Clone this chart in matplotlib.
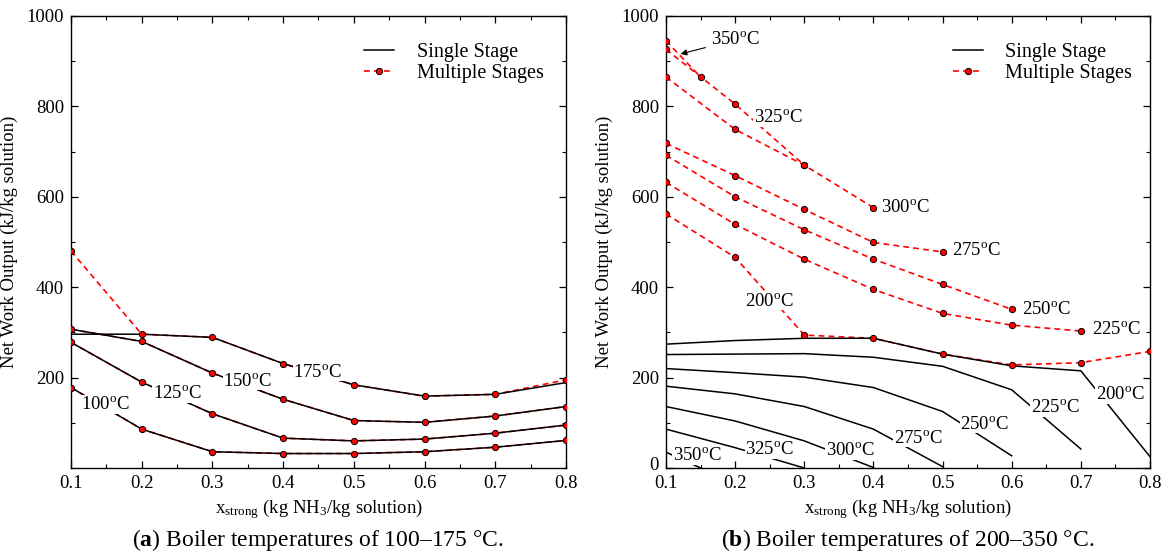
import numpy as np
import matplotlib
matplotlib.use("Agg")
import matplotlib.pyplot as plt
import matplotlib.transforms as mtransforms
from matplotlib.ticker import MultipleLocator

plt.rcParams['font.family'] = ['Liberation Serif', 'DejaVu Serif']
plt.rcParams['mathtext.fontset'] = 'custom'
plt.rcParams['mathtext.rm'] = 'Liberation Serif'
plt.rcParams['mathtext.it'] = 'Liberation Serif:italic'
plt.rcParams['mathtext.bf'] = 'Liberation Serif:bold'

## data, panel (a): boiler 100-175 C
x_a = [0.1, 0.2, 0.3, 0.4, 0.5, 0.6, 0.7, 0.8]
temps_a = [100, 125, 150, 175]
single_a = {
    100: [178, 86, 36, 32, 32, 36, 46, 61],
    125: [278, 190, 120, 66, 60, 64, 77, 95],
    150: [307, 280, 210, 152, 105, 101, 115, 136],
    175: [296, 296, 289, 231, 184, 159, 163, 189],
}
multi_a = {
    100: [178, 86, 36, 32, 32, 36, 46, 61],
    125: [278, 190, 120, 66, 60, 64, 77, 95],
    150: [307, 280, 210, 152, 105, 101, 115, 136],
    175: [480, 296, 289, 231, 184, 159, 163, 195],
}
label_pos_a = {100: (0.149, 141), 125: (0.25, 165), 150: (0.35, 192), 175: (0.449, 212)}

## data, panel (b): boiler 200-350 C
temps_b = [200, 225, 250, 275, 300, 325, 350]
single_x_b = {
    200: [0.1, 0.2, 0.3, 0.4, 0.5, 0.6, 0.7, 0.8],
    225: [0.1, 0.2, 0.3, 0.4, 0.5, 0.6, 0.7],
    250: [0.1, 0.2, 0.3, 0.4, 0.5, 0.6],
    275: [0.1, 0.2, 0.3, 0.4, 0.5],
    300: [0.1, 0.2, 0.3, 0.4],
    325: [0.1, 0.2, 0.3],
    350: [0.1, 0.15],
}
single_b = {
    200: [274, 282, 287, 287, 252, 226, 215, 25],
    225: [251, 252, 253, 245, 225, 173, 42],
    250: [220, 211, 201, 178, 125, 27],
    275: [181, 164, 136, 86, 3],
    300: [136, 104, 60, 1],
    325: [86, 45, 0],
    350: [35, 0],
}
multi_x_b = {
    200: [0.1, 0.2, 0.3, 0.4, 0.5, 0.6, 0.7, 0.8],
    225: [0.1, 0.2, 0.3, 0.4, 0.5, 0.6, 0.7],
    250: [0.1, 0.2, 0.3, 0.4, 0.5, 0.6],
    275: [0.1, 0.2, 0.3, 0.4, 0.5],
    300: [0.1, 0.2, 0.3, 0.4],
    325: [0.1, 0.2, 0.3],
    350: [0.1, 0.15],
}
multi_b = {
    200: [562, 466, 294, 287, 252, 228, 233, 258],
    225: [632, 539, 462, 395, 342, 316, 303],
    250: [692, 600, 527, 462, 406, 351],
    275: [718, 647, 572, 499, 478],
    300: [865, 749, 670, 576],
    325: [926, 805, 670],
    350: [945, 865],
}
single_label_b = {200: (0.757, 163), 225: (0.663, 133), 250: (0.561, 97), 275: (0.465, 66),
                  300: (0.366, 38), 325: (0.25, 41), 350: (0.145, 27)}
multi_label_b = {200: (0.25, 369), 225: (0.716, 307), 250: (0.6145, 351), 275: (0.513, 481),
                 300: (0.4105, 577), 325: (0.262, 775)}

FS = 13.5
BLACK = dict(color='black', lw=1.1, zorder=3)
RED = dict(color='red', lw=1.2, ls=(0, (3.5, 2.5)), zorder=2)
MARK = dict(ls='none', marker='o', ms=4.5, mfc='red', mec='black', mew=0.7, zorder=4)
BOX = dict(fc='white', ec='none', pad=0.6)


def deg(t):
    return '%d$^{\\rm o}$C' % t


def style(ax, yticks):
    ax.set_xlim(0.1, 0.8)
    ax.set_ylim(0, 1000)
    ax.set_xticks([0.1, 0.2, 0.3, 0.4, 0.5, 0.6, 0.7, 0.8])
    ax.set_xticklabels(['0.1', '0.2', '0.3', '0.4', '0.5', '0.6', '0.7', '0.8'])
    ax.set_yticks(yticks)
    ax.xaxis.set_minor_locator(MultipleLocator(0.05))
    ax.yaxis.set_minor_locator(MultipleLocator(100))
    ax.tick_params(which='both', direction='in', top=True, right=True, labelsize=FS, pad=5)
    ax.tick_params(which='major', length=5, width=0.9)
    ax.tick_params(which='minor', length=3, width=0.8)
    for s in ax.spines.values():
        s.set_linewidth(1.0)
    ax.set_xlabel('x$_{\\rm strong}$ (kg NH$_3$/kg solution)', fontsize=FS, labelpad=4)
    ax.set_ylabel('Net Work Output (kJ/kg solution)', fontsize=FS, labelpad=6)
    leg_s = plt.Line2D([], [], **BLACK)
    leg_m = plt.Line2D([], [], color='red', lw=1.2, ls=(0, (3.5, 2.5)), marker='o', ms=4.5,
                       mfc='red', mec='black', mew=0.7)
    ax.legend([leg_s, leg_m], ['Single Stage', 'Multiple Stages'], loc='upper left',
              bbox_to_anchor=(0.572, 0.962), frameon=False, fontsize=14.5, borderpad=0,
              handlelength=1.5, handletextpad=1.1, labelspacing=0.1)


fig = plt.figure(figsize=(11.74, 5.54), dpi=100)
ax1 = fig.add_axes([71 / 1174, 86 / 554, 495 / 1174, 452 / 554])
ax2 = fig.add_axes([666 / 1174, 86 / 554, 484 / 1174, 452 / 554])

# panel (a)
for t in temps_a:
    ax1.plot(x_a, single_a[t], **BLACK)
    ax1.plot(x_a, multi_a[t], **RED)
    ax1.plot(x_a, multi_a[t], **MARK)
    lx, ly = label_pos_a[t]
    ax1.text(lx, ly, deg(t), fontsize=FS, ha='center', va='center', bbox=BOX, zorder=5)
style(ax1, [200, 400, 600, 800, 1000])

# panel (b)
for t in temps_b:
    ax2.plot(single_x_b[t], single_b[t], **BLACK)
    ax2.plot(multi_x_b[t], multi_b[t], **RED)
    ax2.plot(multi_x_b[t], multi_b[t], **MARK)
    lx, ly = single_label_b[t]
    ax2.text(lx, ly, deg(t), fontsize=FS, ha='center', va='center', bbox=BOX, zorder=5)
for t, (lx, ly) in multi_label_b.items():
    ha = 'center' if t in (200, 325) else 'left'
    ax2.text(lx, ly, deg(t), fontsize=FS, ha=ha, va='center', bbox=BOX, zorder=5)
ax2.annotate(deg(350), xy=(0.121, 916), xytext=(0.165, 947), fontsize=FS, ha='left', va='center',
             arrowprops=dict(arrowstyle='-|>', color='black', lw=0.8, mutation_scale=9,
                             shrinkA=2, shrinkB=0), zorder=5)
style(ax2, [0, 200, 400, 600, 800, 1000])

# lift the "0" label a little so it clears the "0.1" below it
fig.canvas.draw()
zero_lab = ax2.get_yticklabels()[0]
zero_lab.set_transform(zero_lab.get_transform() +
                       mtransforms.ScaledTranslation(0, 5 / 100, fig.dpi_scale_trans))

fig.text(318 / 1174, 1 - 540 / 554, '($\\mathbf{a}$) Boiler temperatures of 100\u2013175 \u00b0C.',
         fontsize=17, ha='center', va='center')
fig.text(908 / 1174, 1 - 540 / 554, '($\\mathbf{b}$) Boiler temperatures of 200\u2013350 \u00b0C.',
         fontsize=17, ha='center', va='center')

fig.savefig('out.png', dpi=100)
